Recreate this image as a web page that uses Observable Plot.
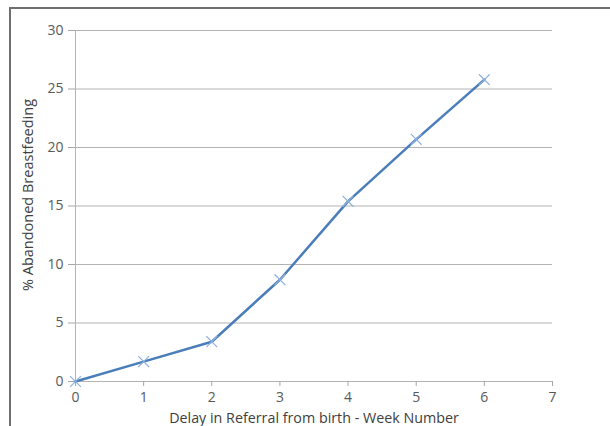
<!DOCTYPE html>
<html>
<head>
<meta charset="utf-8">
<script src="https://cdn.jsdelivr.net/npm/d3@7"></script>
<script src="https://cdn.jsdelivr.net/npm/@observablehq/plot@0.6"></script>
<style>
  body { margin: 0; background: #fff; }
  #wrap { position: relative; width: 610px; height: 426px; overflow: hidden; }
  #frame { position: absolute; left: 9px; top: 7px; width: 700px; height: 500px;
           border-top: 2px solid #6f6f6f; border-left: 2px solid #6f6f6f; }
  #chart { position: absolute; left: 0; top: 0; }
</style>
</head>
<body>
<div id="wrap"><div id="frame"></div><div id="chart"></div></div>
<script>
const weeks = [0, 1, 2, 3, 4, 5, 6];
const abandoned = [0, 1.7, 3.4, 8.7, 15.4, 20.7, 25.8];
const xTicks = [0, 1, 2, 3, 4, 5, 6, 7];
const yTicks = [0, 5, 10, 15, 20, 25, 30];

const data = weeks.map((w, i) => ({week: w, pct: abandoned[i]}));
const font = "'Open Sans', 'Liberation Sans', sans-serif";

const plot = Plot.plot({
  width: 610,
  height: 426,
  marginLeft: 75,
  marginRight: 58,
  marginTop: 30,
  marginBottom: 45,
  style: {fontFamily: font, fontSize: "14px", color: "#595959", background: "transparent"},
  x: {domain: [0, 7], ticks: xTicks, tickFormat: "d", label: null},
  y: {domain: [0, 30], ticks: yTicks, tickFormat: "d", label: null},
  marks: [
    Plot.gridY(yTicks, {stroke: "#b3b3b3", strokeOpacity: 1, strokeWidth: 1}),
    Plot.ruleX([0], {stroke: "#b3b3b3", strokeWidth: 1}),
    Plot.axisX({ticks: xTicks, tickFormat: "d", tickSize: 5, tickPadding: 6, stroke: "#a6a6a6", fill: "#595959", fontSize: 14, label: null}),
    Plot.axisY({ticks: yTicks, tickFormat: "d", tickSize: 7, tickPadding: 5, stroke: "#a6a6a6", fill: "#595959", fontSize: 14, label: null}),
    Plot.line(data, {x: "week", y: "pct", stroke: "#4a7ebb", strokeWidth: 2.5}),
    Plot.dot(data, {x: "week", y: "pct", symbol: "times", r: 5, stroke: "#8eb1de", strokeWidth: 1.2}),
    Plot.text(["Delay in Referral from birth - Week Number"], {frameAnchor: "bottom", dy: 41, fontSize: 14.3, fill: "#404040"}),
    Plot.text(["% Abandoned Breastfeeding"], {frameAnchor: "left", textAnchor: "middle", dx: -47, dy: -11, rotate: -90, fontSize: 14.5, fill: "#404040"})
  ]
});
document.getElementById("chart").appendChild(plot);
</script>
</body>
</html>
